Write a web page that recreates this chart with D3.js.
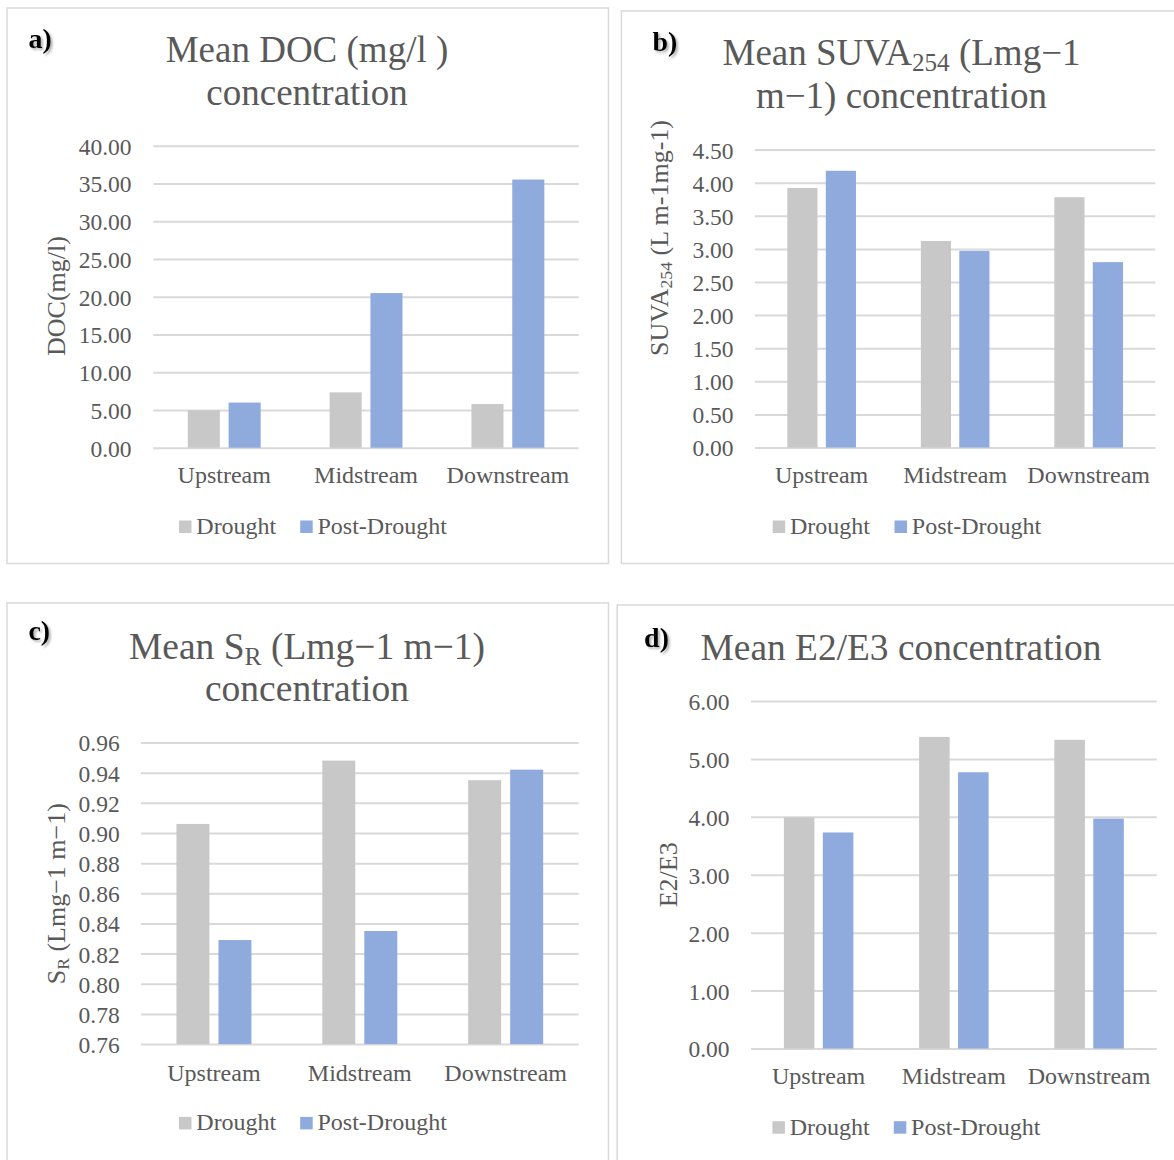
<!DOCTYPE html>
<html>
<head>
<meta charset="utf-8">
<script src="https://cdn.jsdelivr.net/npm/d3@7"></script>
<style>
  body { margin: 0; background: #fff; }
  svg text { font-family: "Liberation Serif", "Times New Roman", serif; }
</style>
</head>
<body>
<svg id="chart" width="1174" height="1160"></svg>
<script>
// ---- data ----
const categories = ["Upstream", "Midstream", "Downstream"];
const seriesNames = ["Drought", "Post-Drought"];

const docDrought = [4.95, 7.33, 5.78];
const docPost = [5.98, 20.48, 35.52];
const docTicks = [0, 5, 10, 15, 20, 25, 30, 35, 40];

const suvaDrought = [3.92, 3.12, 3.78];
const suvaPost = [4.18, 2.97, 2.80];
const suvaTicks = [0, 0.5, 1, 1.5, 2, 2.5, 3, 3.5, 4, 4.5];

const srDrought = [0.906, 0.948, 0.935];
const srPost = [0.829, 0.835, 0.942];
const srTicks = [0.76, 0.78, 0.80, 0.82, 0.84, 0.86, 0.88, 0.90, 0.92, 0.94, 0.96];

const e2e3Drought = [3.99, 5.38, 5.33];
const e2e3Post = [3.73, 4.77, 3.97];
const e2e3Ticks = [0, 1, 2, 3, 4, 5, 6];

// ---- styling ----
const seriesColors = ["#c8c8c8", "#8faadc"];
const textColor = "#595959";
const gridColor = "#d9d9d9";

// ---- panel layout ----
// title / axis-title lines are lists of [text, isSubscript] runs
const panels = [
  {
    tag: "a)", drought: docDrought, post: docPost, ticks: docTicks,
    title: [[["Mean DOC (mg/l )", false]], [["concentration", false]]],
    yTitle: [["DOC(mg/l)", false]],
    frame: { x: 7, y: 8, w: 601.5, h: 555.5 },
    plot: { left: 153.3, right: 578.8, top: 145.7, bottom: 447.7 },
    titleX: 307, titleY: [61.7, 105.3], titleSize: 37,
    yTitleX: 65, yTitleY: 296,
    tickRight: 131.5, tagX: 28.4, tagY: 48, catY: 483,
    legendY: 533, legendX: [179, 300.2]
  },
  {
    tag: "b)", drought: suvaDrought, post: suvaPost, ticks: suvaTicks,
    title: [[["Mean SUVA", false], ["254", true], [" (Lmg\u22121", false]],
            [["m\u22121) concentration", false]]],
    yTitle: [["SUVA", false], ["254", true], [" (L m-1mg-1)", false]],
    frame: { x: 621.4, y: 10.9, w: 570, h: 552.6 },
    plot: { left: 754.9, right: 1155.4, top: 149.6, bottom: 447.5 },
    titleX: 901.5, titleY: [65.4, 108.2], titleSize: 37,
    yTitleX: 668.4, yTitleY: 238,
    tickRight: 733.5, tagX: 652.4, tagY: 50.8, catY: 483,
    legendY: 533, legendX: [772.7, 894.5]
  },
  {
    tag: "c)", drought: srDrought, post: srPost, ticks: srTicks,
    title: [[["Mean S", false], ["R", true], [" (Lmg\u22121 m\u22121)", false]],
            [["concentration", false]]],
    yTitle: [["S", false], ["R", true], [" (Lmg\u22121 m\u22121)", false]],
    frame: { x: 7, y: 602.9, w: 601.5, h: 600 },
    plot: { left: 141, right: 578.6, top: 742.5, bottom: 1044.1 },
    titleX: 307, titleY: [659, 701.2], titleSize: 37.5,
    yTitleX: 65.2, yTitleY: 893.7,
    tickRight: 119.7, tagX: 28.4, tagY: 640, catY: 1080.8,
    legendY: 1129.4, legendX: [179, 300.2]
  },
  {
    tag: "d)", drought: e2e3Drought, post: e2e3Post, ticks: e2e3Ticks,
    title: [[["Mean E2/E3 concentration", false]]],
    yTitle: [["E2/E3", false]],
    frame: { x: 617.2, y: 605, w: 570, h: 600 },
    plot: { left: 751, right: 1156.7, top: 701, bottom: 1048.5 },
    titleX: 901, titleY: [659.8], titleSize: 37.4,
    yTitleX: 676.5, yTitleY: 874.8,
    tickRight: 729.6, tagX: 644.1, tagY: 647.2, catY: 1083.7,
    legendY: 1133.7, legendX: [772.4, 893.8]
  }
];

const svg = d3.select("#chart");

const defs = svg.append("defs");
const shadow = defs.append("filter").attr("id", "tagShadow")
  .attr("x", "-20%").attr("y", "-20%").attr("width", "160%").attr("height", "160%");
shadow.append("feDropShadow")
  .attr("dx", 2).attr("dy", 2).attr("stdDeviation", 1.2)
  .attr("flood-color", "#777").attr("flood-opacity", 0.55);

function addRuns(textSel, runs) {
  runs.forEach(([str, sub]) => {
    const t = textSel.append("tspan").text(str);
    if (sub) {
      t.attr("font-size", "0.68em").attr("baseline-shift", "-22%");
    }
  });
}

const fmt = d3.format(".2f");

panels.forEach(p => {
  const g = svg.append("g");

  // outer frame
  g.append("rect")
    .attr("x", p.frame.x).attr("y", p.frame.y)
    .attr("width", p.frame.w).attr("height", p.frame.h)
    .attr("fill", "#fff").attr("stroke", gridColor).attr("stroke-width", 1.5);

  const y = d3.scaleLinear()
    .domain([p.ticks[0], p.ticks[p.ticks.length - 1]])
    .range([p.plot.bottom, p.plot.top]);

  const x = d3.scaleBand()
    .domain(categories)
    .range([p.plot.left, p.plot.right])
    .paddingInner(0).paddingOuter(0);

  // two bars per category with a small gap, centred in the band
  const bw = x.bandwidth();
  const barW = bw * 0.226;
  const gap = bw * 0.062;
  const groupW = 2 * barW + gap;
  const xs = d3.scaleBand()
    .domain(seriesNames)
    .range([(bw - groupW) / 2, (bw + groupW) / 2])
    .paddingInner(gap / (barW + gap))
    .paddingOuter(0);

  // gridlines
  const yAxis = d3.axisLeft(y)
    .tickValues(p.ticks)
    .tickSize(-(p.plot.right - p.plot.left))
    .tickFormat("");
  const ga = g.append("g")
    .attr("transform", `translate(${p.plot.left},0)`)
    .call(yAxis);
  ga.select(".domain").remove();
  ga.selectAll(".tick line").attr("stroke", gridColor).attr("stroke-width", 2);

  // tick labels
  g.append("g").selectAll("text")
    .data(p.ticks)
    .join("text")
    .attr("x", p.tickRight)
    .attr("y", d => y(d))
    .attr("dy", "0.38em")
    .attr("text-anchor", "end")
    .attr("font-size", 23.5)
    .attr("fill", textColor)
    .text(d => fmt(d));

  // bars
  const rows = categories.map((c, i) => ({ cat: c, vals: [p.drought[i], p.post[i]] }));
  const cg = g.append("g").selectAll("g")
    .data(rows)
    .join("g")
    .attr("transform", d => `translate(${x(d.cat)},0)`);
  cg.selectAll("rect")
    .data(d => d.vals.map((v, j) => ({ s: seriesNames[j], v, j })))
    .join("rect")
    .attr("x", d => xs(d.s))
    .attr("width", xs.bandwidth())
    .attr("y", d => y(d.v))
    .attr("height", d => y.range()[0] - y(d.v))
    .attr("fill", d => seriesColors[d.j]);

  // category labels
  g.append("g").selectAll("text")
    .data(categories)
    .join("text")
    .attr("x", d => x(d) + bw / 2)
    .attr("y", p.catY)
    .attr("text-anchor", "middle")
    .attr("font-size", 24)
    .attr("fill", textColor)
    .text(d => d);

  // legend
  const lg = g.append("g").selectAll("g")
    .data(seriesNames)
    .join("g")
    .attr("transform", (d, i) => `translate(${p.legendX[i]},${p.legendY})`);
  lg.append("rect")
    .attr("x", 0).attr("y", -12.5).attr("width", 12.5).attr("height", 12.5)
    .attr("fill", (d, i) => seriesColors[i]);
  lg.append("text")
    .attr("x", 17.3).attr("y", 1)
    .attr("font-size", 24)
    .attr("fill", textColor)
    .text(d => d);

  // chart title
  p.title.forEach((line, li) => {
    const t = g.append("text")
      .attr("x", p.titleX).attr("y", p.titleY[li])
      .attr("text-anchor", "middle")
      .attr("font-size", p.titleSize)
      .attr("fill", textColor);
    addRuns(t, line);
  });

  // y axis title
  const yt = g.append("text")
    .attr("transform", `translate(${p.yTitleX},${p.yTitleY}) rotate(-90)`)
    .attr("text-anchor", "middle")
    .attr("font-size", 26)
    .attr("fill", textColor);
  addRuns(yt, p.yTitle);

  // panel tag
  g.append("text")
    .attr("x", p.tagX).attr("y", p.tagY)
    .attr("font-size", 28)
    .attr("font-weight", "bold")
    .attr("fill", "#000")
    .attr("filter", "url(#tagShadow)")
    .text(p.tag);
});
</script>
</body>
</html>
